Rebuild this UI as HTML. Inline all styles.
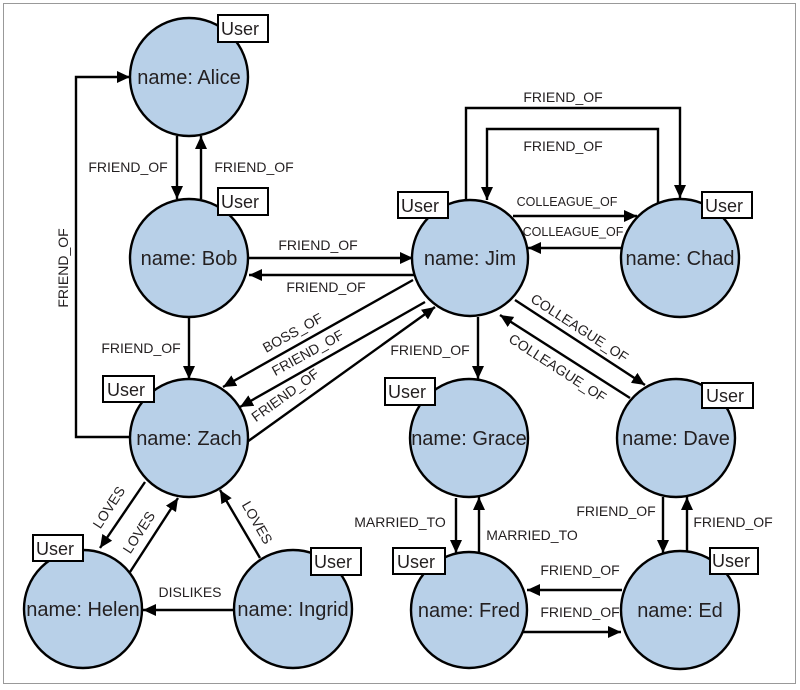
<!DOCTYPE html>
<html><head><meta charset="utf-8"><style>
html,body{margin:0;padding:0;background:#fff;}
svg{display:block;}
text{font-family:"Liberation Sans",sans-serif;fill:#231f20;}
.n{font-size:20px;text-anchor:middle;}
.l{font-size:14px;text-anchor:middle;}
.s{font-size:12.5px;text-anchor:middle;}
.u{font-size:18px;}
</style></head><body>
<svg width="800" height="690" viewBox="0 0 800 690" xmlns="http://www.w3.org/2000/svg">
<defs>
<marker id="a" markerUnits="userSpaceOnUse" markerWidth="14" markerHeight="12" refX="13" refY="6" orient="auto">
<path d="M0,0 L13,6 L0,12 Z" fill="#000"/>
</marker>
</defs>
<rect x="3.5" y="3.5" width="792" height="680" fill="#fff" stroke="#999" stroke-width="1"/>
<g stroke="#000" stroke-width="2.4" fill="none" marker-end="url(#a)">
<line x1="177" y1="136" x2="177" y2="199"/>
<line x1="201" y1="199" x2="201" y2="136"/>
<polyline points="129,437 76,437 76,77 130,77"/>
<line x1="189" y1="318" x2="189" y2="379"/>
<line x1="249" y1="258" x2="413" y2="258"/>
<line x1="416" y1="275" x2="249" y2="275"/>
<polyline points="466,201 466,108 680,108 680,198"/>
<polyline points="658,206 658,129 487,129 487,200"/>
<line x1="513" y1="216" x2="637" y2="216"/>
<line x1="622" y1="248" x2="528" y2="248"/>
<line x1="413" y1="280" x2="223" y2="387"/>
<line x1="425" y1="302" x2="240" y2="407"/>
<line x1="247" y1="442" x2="435" y2="307"/>
<line x1="478" y1="317" x2="478" y2="379"/>
<line x1="515" y1="300" x2="645" y2="385"/>
<line x1="630" y1="398" x2="500" y2="315"/>
<line x1="456" y1="498" x2="456" y2="553"/>
<line x1="479" y1="553" x2="479" y2="497"/>
<line x1="663" y1="497" x2="663" y2="553"/>
<line x1="687" y1="553" x2="687" y2="497"/>
<line x1="622" y1="590" x2="527" y2="590"/>
<line x1="523" y1="632" x2="621" y2="632"/>
<line x1="145" y1="482" x2="100" y2="548"/>
<line x1="130" y1="572" x2="178" y2="498"/>
<line x1="260" y1="558" x2="220" y2="490"/>
<line x1="233" y1="610" x2="143" y2="610"/>
</g>
<g fill="#b8d0e8" stroke="#000" stroke-width="2.4">
<circle cx="189" cy="77" r="59"/>
<circle cx="189" cy="258" r="59"/>
<circle cx="189" cy="438" r="59"/>
<circle cx="83" cy="609" r="59"/>
<circle cx="293" cy="609" r="59"/>
<circle cx="470" cy="258" r="58"/>
<circle cx="680" cy="258" r="59"/>
<circle cx="469" cy="438" r="59"/>
<circle cx="676" cy="438" r="59"/>
<circle cx="469" cy="610" r="58"/>
<circle cx="680" cy="610" r="59"/>
</g>
<g class="n">
<text x="189" y="84">name: Alice</text>
<text x="189" y="265">name: Bob</text>
<text x="189" y="445">name: Zach</text>
<text x="83" y="616">name: Helen</text>
<text x="293" y="616">name: Ingrid</text>
<text x="470" y="265">name: Jim</text>
<text x="680" y="265">name: Chad</text>
<text x="469" y="445">name: Grace</text>
<text x="676" y="445">name: Dave</text>
<text x="469" y="617">name: Fred</text>
<text x="680" y="617">name: Ed</text>
</g>
<g fill="#fff" stroke="#000" stroke-width="2">
<rect x="218" y="15" width="50" height="27"/>
<rect x="218" y="188" width="50" height="27"/>
<rect x="103" y="376" width="51" height="26"/>
<rect x="33" y="535" width="50" height="26"/>
<rect x="311" y="548" width="50" height="27"/>
<rect x="398" y="192" width="50" height="26"/>
<rect x="702" y="192" width="50" height="26"/>
<rect x="385" y="378" width="50" height="27"/>
<rect x="702" y="383" width="51" height="25"/>
<rect x="393" y="548" width="52" height="26"/>
<rect x="710" y="548" width="48" height="26"/>
</g>
<g class="u">
<text x="221" y="35">User</text>
<text x="221" y="208">User</text>
<text x="107" y="396">User</text>
<text x="36" y="555">User</text>
<text x="314" y="568">User</text>
<text x="401" y="212">User</text>
<text x="705" y="212">User</text>
<text x="388" y="398">User</text>
<text x="706" y="402">User</text>
<text x="397" y="568">User</text>
<text x="712" y="567">User</text>
</g>
<g class="l">
<text x="128" y="172">FRIEND_OF</text>
<text x="254" y="172">FRIEND_OF</text>
<text x="68" y="268" transform="rotate(-90 68 268)">FRIEND_OF</text>
<text x="141" y="353">FRIEND_OF</text>
<text x="318" y="250">FRIEND_OF</text>
<text x="326" y="292">FRIEND_OF</text>
<text x="563" y="102">FRIEND_OF</text>
<text x="563" y="151">FRIEND_OF</text>
<text x="430" y="355">FRIEND_OF</text>
<text x="295" y="337" transform="rotate(-29 295 337)">BOSS_OF</text>
<text x="310" y="357" transform="rotate(-29 310 357)">FRIEND_OF</text>
<text x="288" y="399" transform="rotate(-36 288 399)">FRIEND_OF</text>
<text x="577" y="332" transform="rotate(33 577 332)">COLLEAGUE_OF</text>
<text x="555" y="372" transform="rotate(33 555 372)">COLLEAGUE_OF</text>
<text x="400" y="527">MARRIED_TO</text>
<text x="532" y="540">MARRIED_TO</text>
<text x="616" y="516">FRIEND_OF</text>
<text x="733" y="527">FRIEND_OF</text>
<text x="580" y="575">FRIEND_OF</text>
<text x="580" y="617">FRIEND_OF</text>
<text x="113" y="510" transform="rotate(-57 113 510)">LOVES</text>
<text x="143" y="535" transform="rotate(-57 143 535)">LOVES</text>
<text x="253" y="525" transform="rotate(60 253 525)">LOVES</text>
<text x="190" y="597">DISLIKES</text>
</g>
<g class="s">
<text x="567" y="206">COLLEAGUE_OF</text>
<text x="573" y="236">COLLEAGUE_OF</text>
</g>
</svg>
</body></html>
